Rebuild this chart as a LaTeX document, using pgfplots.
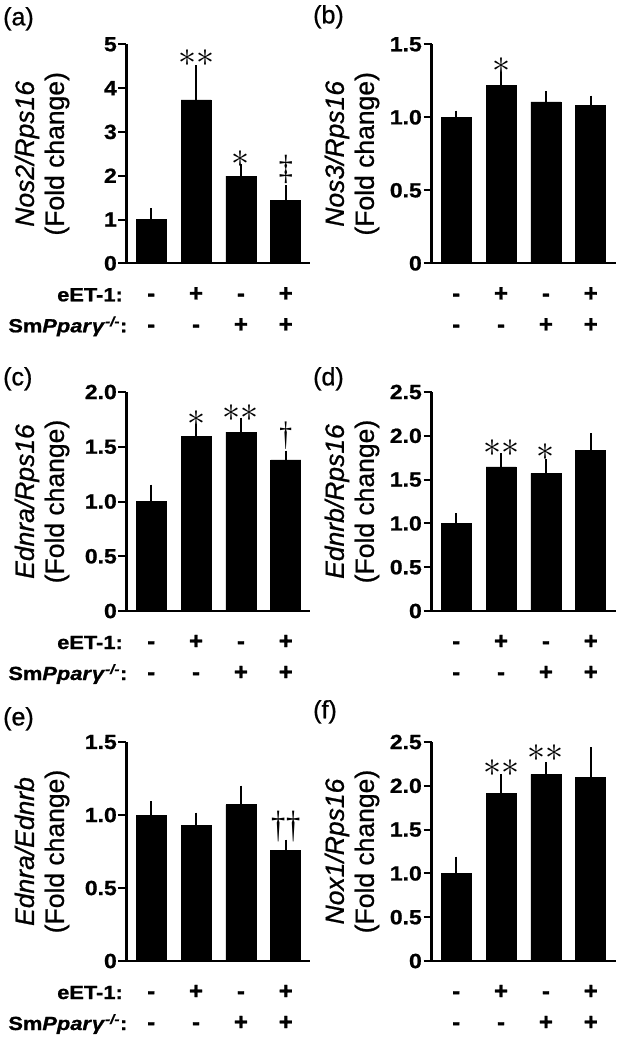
\documentclass[border=0pt]{standalone}
\usepackage{fontspec}
\setmainfont{Liberation Sans}
\newfontfamily\rowfont[FakeStretch=1.15, FakeBold=1]{Liberation Sans}
\newfontfamily\tickfont[FakeStretch=1.12, FakeBold=1]{Liberation Sans}
\newfontfamily\labfont[FakeBold=0.8]{Liberation Sans}
\newfontfamily\signfont[FakeBold=1]{Liberation Sans}
\newfontfamily\serif{Liberation Serif}
\usepackage{graphicx}
\usepackage{pgfplots}
\pgfplotsset{compat=1.18}

\pgfplotsset{
 panel/.style={
  scale only axis, width=184pt, height=219pt,
  anchor=south west,
  xmin=-0.55, xmax=3.55, ymin=0,
  axis x line=bottom, axis y line=left,
  axis line style={-, line width=2.2pt, black},
  xtick=\empty,
  tick align=outside, major tick length=8pt,
  ytick style={line width=2pt, black},
  /pgf/number format/assume math mode=true,
  yticklabel style={font=\tickfont\fontsize{20.5}{20.5}\selectfont\bfseries, inner xsep=1.5pt},
  ylabel style={font=\labfont\fontsize{26.5}{30}\selectfont, align=center, anchor=center},
  ybar, bar width=30pt,
  clip=false,
 },
 leftlab/.style={ylabel style={at={(axis description cs:-0.459,0.5)}}},
 rightlab/.style={ylabel style={at={(axis description cs:-0.432,0.5)}}},
 bars/.style={fill=black, draw=black, line width=0.8pt,
  error bars/y dir=plus, error bars/y explicit,
  error bars/error bar style={line width=2pt, black},
  error bars/error mark options={line width=2pt, black, mark size=4.5pt}},
}
\tikzset{
 rowa/.style={font=\rowfont\fontsize{19}{19}\selectfont\bfseries, anchor=base, yshift=-38pt, inner sep=0pt},
 rowb/.style={font=\rowfont\fontsize{19}{19}\selectfont\bfseries, anchor=base, yshift=-69pt, inner sep=0pt},
 siga/.style={font=\signfont\fontsize{24}{24}\selectfont\bfseries, anchor=base, yshift=-38pt, inner sep=0pt},
 sigb/.style={font=\signfont\fontsize{24}{24}\selectfont\bfseries, anchor=base, yshift=-69pt, inner sep=0pt},
 plab/.style={font=\labfont\fontsize{25}{25}\selectfont, anchor=north west, inner sep=0pt},
}

\newcommand{\signs}{%
 \node[siga] at (axis cs:0,0) {-};
 \node[siga] at (axis cs:1,0) {+};
 \node[siga] at (axis cs:2,0) {-};
 \node[siga] at (axis cs:3,0) {+};
 \node[sigb] at (axis cs:0,0) {-};
 \node[sigb] at (axis cs:1,0) {-};
 \node[sigb] at (axis cs:2,0) {+};
 \node[sigb] at (axis cs:3,0) {+};
}
\newcommand{\rownames}{%
 \node[rowa, anchor=base east, xshift=-3.5pt] at (axis cs:-0.55,0) {eET-1:};
 \node[rowb, anchor=base east, xshift=1pt] at (axis cs:-0.55,0) {Sm\textit{Ppar}\textit{γ}\textsuperscript{\textit{-/-}}:};
}
\newcommand{\one}{\scalebox{3.6}{$\ast$}}
\newcommand{\two}{\scalebox{3.6}{${\ast}{\ast}$}}
\newcommand{\dg}[1]{\scalebox{0.75}[1]{\serif\fontsize{#1}{#1}\selectfont †}}

\begin{document}
\begin{tikzpicture}
\useasboundingbox (0,0) rectangle (618pt,-1050pt);

% (a)
\begin{axis}[panel, leftlab, at={(126.5pt,-263.3pt)}, ymax=5,
  ytick={0,1,2,3,4,5}, yticklabels={0,1,2,3,4,5},
  ylabel={\textit{Nos2/Rps16}\\(Fold change)}]
\addplot[bars] coordinates {(0,1.0) +- (0,0.15) (1,3.73) +- (0,0.69) (2,1.99) +- (0,0.17) (3,1.44) +- (0,0.24)};
\node at (axis cs:1,4.69) {\two};
\node at (axis cs:2,2.39) {\one};
\node at (axis cs:3,2.15) {\scalebox{0.8}[1]{\serif\fontsize{35}{35}\selectfont ‡}};
\signs
\rownames
\end{axis}

% (b)
\begin{axis}[panel, rightlab, at={(431.5pt,-263.3pt)}, ymax=1.5,
  ytick={0,0.5,1,1.5}, yticklabels={0,0.5,1.0,1.5},
  ylabel={\textit{Nos3/Rps16}\\(Fold change)}]
\addplot[bars] coordinates {(0,1.0) +- (0,0.015) (1,1.22) +- (0,0.057) (2,1.105) +- (0,0.042) (3,1.08) +- (0,0.038)};
\node at (axis cs:1,1.352) {\one};
\signs
\end{axis}

% (c)
\begin{axis}[panel, leftlab, at={(126.5pt,-611pt)}, ymax=2,
  ytick={0,0.5,1,1.5,2}, yticklabels={0,0.5,1.0,1.5,2.0},
  ylabel={\textit{Ednra/Rps16}\\(Fold change)}]
\addplot[bars] coordinates {(0,1.0) +- (0,0.113) (1,1.595) +- (0,0.07) (2,1.634) +- (0,0.09) (3,1.38) +- (0,0.043)};
\node at (axis cs:1,1.756) {\one};
\node at (axis cs:2,1.81) {\two};
\node at (axis cs:3,1.60) {\dg{34}};
\signs
\rownames
\end{axis}

% (d)
\begin{axis}[panel, rightlab, at={(431.5pt,-611pt)}, ymax=2.5,
  ytick={0,0.5,1,1.5,2,2.5}, yticklabels={0,0.5,1.0,1.5,2.0,2.5},
  ylabel={\textit{Ednrb/Rps16}\\(Fold change)}]
\addplot[bars] coordinates {(0,1.0) +- (0,0.064) (1,1.645) +- (0,0.105) (2,1.57) +- (0,0.11) (3,1.83) +- (0,0.15)};
\node at (axis cs:1,1.86) {\two};
\node at (axis cs:2,1.816) {\one};
\signs
\end{axis}

% (e)
\begin{axis}[panel, leftlab, at={(126.5pt,-961pt)}, ymax=1.5,
  ytick={0,0.5,1,1.5}, yticklabels={0,0.5,1.0,1.5},
  ylabel={\textit{Ednra/Ednrb}\\(Fold change)}]
\addplot[bars] coordinates {(0,1.0) +- (0,0.065) (1,0.93) +- (0,0.055) (2,1.07) +- (0,0.10) (3,0.76) +- (0,0.04)};
\node at (axis cs:3,0.92) {\dg{38}\kern1pt\dg{38}};
\signs
\rownames
\end{axis}

% (f)
\begin{axis}[panel, rightlab, at={(431.5pt,-961pt)}, ymax=2.5,
  ytick={0,0.5,1,1.5,2,2.5}, yticklabels={0,0.5,1.0,1.5,2.0,2.5},
  ylabel={\textit{Nox1/Rps16}\\(Fold change)}]
\addplot[bars] coordinates {(0,1.0) +- (0,0.14) (1,1.91) +- (0,0.17) (2,2.13) +- (0,0.09) (3,2.10) +- (0,0.29)};
\node at (axis cs:1,2.20) {\two};
\node at (axis cs:2,2.37) {\two};
\signs
\end{axis}

\node[plab] at (3pt,-7pt) {(a)};
\node[plab] at (313pt,-5pt) {(b)};
\node[plab] at (3pt,-367pt) {(c)};
\node[plab] at (313pt,-367pt) {(d)};
\node[plab] at (3pt,-707pt) {(e)};
\node[plab] at (313pt,-700pt) {(f)};
\end{tikzpicture}
\end{document}
